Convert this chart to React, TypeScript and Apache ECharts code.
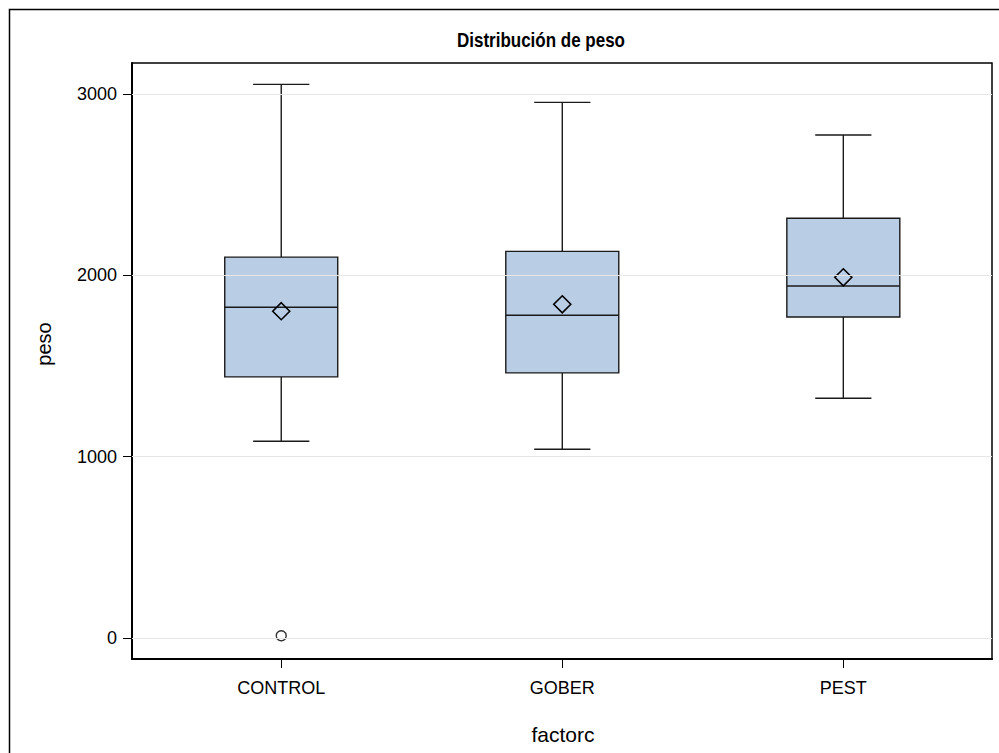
import React, { useEffect, useRef } from "react";
import * as echarts from "echarts";

const categories = ["CONTROL", "GOBER", "PEST"];
const whiskerLow = [1085, 1041, 1322];
const q1 = [1440, 1462, 1770];
const median = [1824, 1780, 1941];
const q3 = [2100, 2132, 2314];
const whiskerHigh = [3052, 2953, 2773];
const means = [1802, 1840, 1989];
const outliers: [number, number][] = [[0, 13]];
const yTicks = [0, 1000, 2000, 3000];

const FONT = "'Liberation Sans', Arial, Helvetica, sans-serif";

export default function App() {
  const ref = useRef<HTMLDivElement>(null);
  useEffect(() => {
    if (!ref.current) return;
    const chart = echarts.init(ref.current, null, { renderer: "svg" });
    const boxData = categories.map((_, i) => [i, whiskerLow[i], q1[i], median[i], q3[i], whiskerHigh[i], means[i]]);
    const stroke = "#1a1a1a";
    chart.setOption({
      animation: false,
      backgroundColor: "#ffffff",
      textStyle: { fontFamily: FONT },
      grid: {
        left: 132,
        right: 7,
        top: 63,
        bottom: 94,
        show: true,
        borderColor: "#000",
        borderWidth: 1.5,
        backgroundColor: "transparent",
      },
      xAxis: {
        type: "value",
        min: -0.531,
        max: 2.529,
        splitLine: { show: false },
        axisLine: { show: true, onZero: false, lineStyle: { color: "#000", width: 2 } },
        axisTick: { show: true, length: 9, customValues: [0, 1, 2], lineStyle: { color: "#000", width: 1 } },
        axisLabel: {
          customValues: [0, 1, 2],
          formatter: (v: number) => categories[Math.round(v)] ?? "",
          fontSize: 18,
          color: "#000",
          margin: 20,
          fontFamily: FONT,
        },
      },
      yAxis: {
        type: "value",
        min: -115,
        max: 3170,
        splitLine: { show: false },
        axisLine: { show: true, onZero: false, lineStyle: { color: "#000", width: 2 } },
        axisTick: { show: true, length: 9, customValues: yTicks, lineStyle: { color: "#000", width: 1 } },
        axisLabel: {
          customValues: yTicks,
          formatter: (v: number) => String(v),
          fontSize: 18,
          color: "#000",
          margin: 15,
          fontFamily: FONT,
        },
      },
      graphic: [
        {
          type: "rect",
          shape: { x: 9.5, y: 9.5, width: 1000, height: 800 },
          style: { fill: "none", stroke: "#000", lineWidth: 1.5 },
          silent: true,
          z: 100,
        },
        {
          type: "text",
          x: 541,
          y: 40,
          scaleX: 0.85,
          style: {
            text: "Distribución de peso",
            font: `bold 20px ${FONT}`,
            fill: "#000",
            align: "center",
            verticalAlign: "middle",
          },
        },
        {
          type: "text",
          x: 44,
          y: 344,
          rotation: Math.PI / 2,
          style: {
            text: "peso",
            font: `20px ${FONT}`,
            fill: "#000",
            align: "center",
            verticalAlign: "middle",
          },
        },
        {
          type: "text",
          x: 563,
          y: 734,
          style: {
            text: "factorc",
            font: `21px ${FONT}`,
            fill: "#000",
            align: "center",
            verticalAlign: "middle",
          },
        },
      ],
      series: [
        {
          type: "line",
          data: [],
          z: 0,
          silent: true,
          markLine: {
            silent: true,
            symbol: "none",
            label: { show: false },
            lineStyle: { color: "#e6e6e6", width: 1.2, type: "solid" },
            data: yTicks.map((v) => ({ yAxis: v })),
          },
        },
        {
          type: "custom",
          z: 3,
          data: boxData,
          encode: { x: 0, y: [1, 2, 3, 4, 5] },
          renderItem: (params: any, api: any) => {
            const x = api.value(0);
            const unit = api.size([1, 0])[0];
            const hw = unit * 0.201;
            const cw = unit * 0.1;
            const pLow = api.coord([x, api.value(1)]);
            const pQ1 = api.coord([x, api.value(2)]);
            const pMed = api.coord([x, api.value(3)]);
            const pQ3 = api.coord([x, api.value(4)]);
            const pHigh = api.coord([x, api.value(5)]);
            const pMean = api.coord([x, api.value(6)]);
            const cx = pMed[0];
            const ls = { stroke, lineWidth: 1.4, fill: "none" };
            const d = 8.5;
            return {
              type: "group",
              children: [
                { type: "line", shape: { x1: cx, y1: pQ3[1], x2: cx, y2: pHigh[1] }, style: ls },
                { type: "line", shape: { x1: cx - cw, y1: pHigh[1], x2: cx + cw, y2: pHigh[1] }, style: ls },
                { type: "line", shape: { x1: cx, y1: pQ1[1], x2: cx, y2: pLow[1] }, style: ls },
                { type: "line", shape: { x1: cx - cw, y1: pLow[1], x2: cx + cw, y2: pLow[1] }, style: ls },
                {
                  type: "rect",
                  shape: { x: cx - hw, y: pQ3[1], width: hw * 2, height: pQ1[1] - pQ3[1] },
                  style: { fill: "#b9cde5", stroke, lineWidth: 1.4 },
                },
                { type: "line", shape: { x1: cx - hw, y1: pMed[1], x2: cx + hw, y2: pMed[1] }, style: ls },
                {
                  type: "polygon",
                  shape: {
                    points: [
                      [cx, pMean[1] - d],
                      [cx + d, pMean[1]],
                      [cx, pMean[1] + d],
                      [cx - d, pMean[1]],
                    ],
                  },
                  style: { fill: "none", stroke: "#000", lineWidth: 1.6 },
                },
              ],
            };
          },
        },
        {
          type: "scatter",
          z: 4,
          data: outliers,
          symbol: "circle",
          symbolSize: 10,
          itemStyle: { color: "#fff", borderColor: "#000", borderWidth: 1.4 },
        },
      ],
    });
    return () => chart.dispose();
  }, []);
  return (
    <div
      ref={ref}
      style={{ position: "fixed", left: 0, top: 0, width: 999, height: 753, background: "#fff" }}
    />
  );
}
